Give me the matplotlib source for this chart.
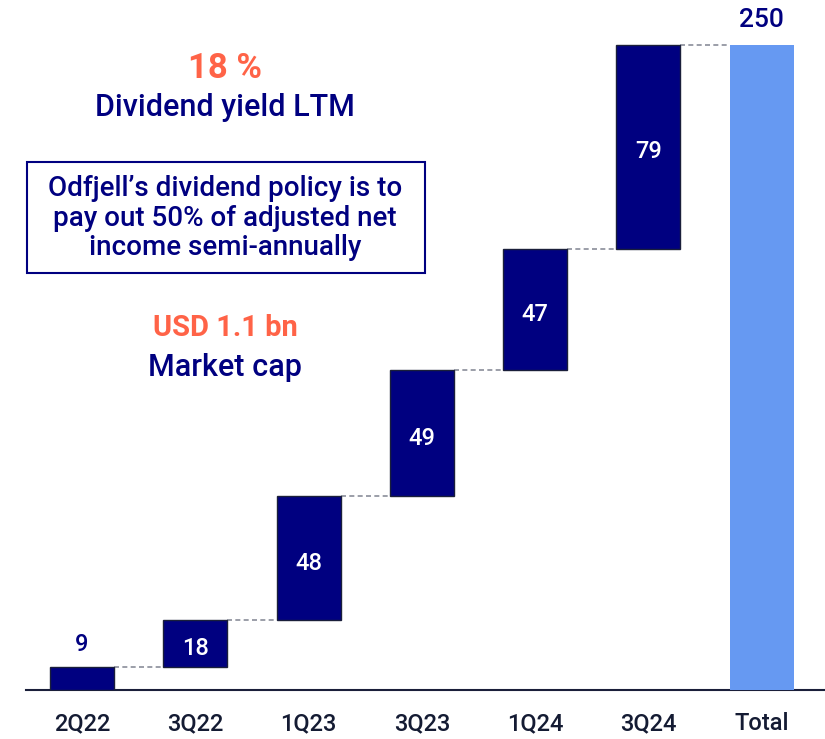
import matplotlib.pyplot as plt
from matplotlib.patches import Rectangle
import numpy as np

plt.rcParams['font.family'] = ['Roboto', 'DejaVu Sans']

quarters = ["2Q22", "3Q22", "1Q23", "3Q23", "1Q24", "3Q24", "Total"]
dividends = [9, 18, 48, 49, 47, 79]
total = sum(dividends)

navy = "#000080"
light_blue = "#6699F2"
orange = "#FF6347"
tick_col = "#141B33"

W, H = 825, 739
fig = plt.figure(figsize=(W / 100, H / 100), dpi=100)
ax = fig.add_axes([26 / W, 49 / H, 1 - 26 / W, 1 - 49 / H])

x = np.arange(len(quarters))
bw = 0.565
bottoms = np.concatenate([[0], np.cumsum(dividends)[:-1]])

ax.bar(x[:-1], dividends, bw, bottom=bottoms, color=navy,
       edgecolor="#1a1f3a", linewidth=1.0, zorder=3)
ax.bar(x[-1], total, bw, color=light_blue, zorder=3)

tops = np.cumsum(dividends)
for i, t in enumerate(tops):
    ax.plot([x[i] + bw / 2, x[i + 1] - bw / 2], [t, t], ls=(0, (3, 2)),
            color="#8a8d99", lw=1.2, zorder=2)

for i, (v, b) in enumerate(zip(dividends, bottoms)):
    if v < 12:
        ax.text(x[i], b + v + 4, str(v), ha="center", va="bottom",
                color=navy, fontsize=17, fontweight="medium")
    else:
        # labels sit a little below the bar middle
        ax.text(x[i], b + v / 2 - 2, str(v), ha="center", va="center",
                color="white", fontsize=17, fontweight="medium")
ax.text(x[-1], total + 5, str(total), ha="center", va="bottom",
        color=navy, fontsize=19, fontweight="medium")

ax.set_xlim(-0.495, 6.56)
ax.set_ylim(0, 267.4)
ax.set_xticks(x)
ax.set_xticklabels(quarters, fontsize=17, fontweight="medium", color=tick_col)
ax.tick_params(axis="x", length=0, pad=16)
ax.set_yticks([])
for s in ["top", "right", "left"]:
    ax.spines[s].set_visible(False)
ax.spines["bottom"].set_color("#1a1f3a")
ax.spines["bottom"].set_linewidth(1.5)


def ftext(px, py, s, **kw):
    fig.text(px / W, 1 - py / H, s, ha="center", va="center", **kw)


ftext(225, 68, "18 %", color=orange, fontsize=25, fontweight="bold")
ftext(225, 108, "Dividend yield LTM", color=navy, fontsize=22, fontweight="medium")
fig.patches.append(Rectangle((27 / W, 1 - 273 / H), 398 / W, 111 / H,
                             transform=fig.transFigure, fill=False,
                             edgecolor=navy, lw=1.5))
ftext(225, 218, "Odfjell\u2019s dividend policy is to\npay out 50% of adjusted net\nincome semi-annually",
      color=navy, fontsize=20, fontweight="medium", linespacing=1.1)
ftext(225, 328, "USD 1.1 bn", color=orange, fontsize=21, fontweight="bold")
ftext(225, 367, "Market cap", color=navy, fontsize=22, fontweight="medium")

fig.savefig("out.png", dpi=100)
